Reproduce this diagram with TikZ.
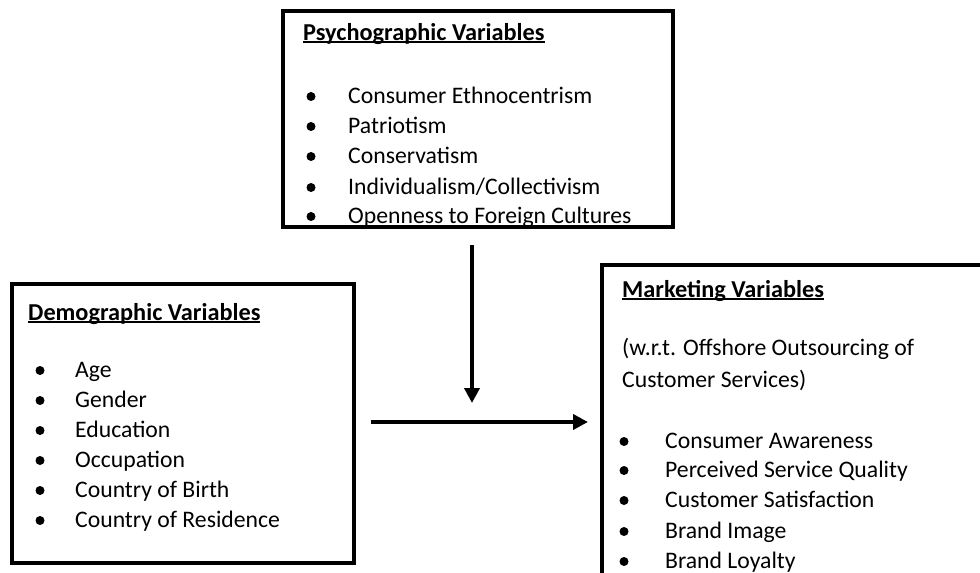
\documentclass[tikz,border=0pt]{standalone}
\usepackage{fontspec}
\setmainfont{Carlito}
\usetikzlibrary{arrows.meta}
% bold heading with an underline that runs through the descenders
\newcommand\hdrline[1]{\setbox0\hbox{\fontsize{24.3}{28}\selectfont\bfseries #1}\rlap{\rule[-3pt]{\wd0}{1.7pt}}\box0}
\tikzset{
  frame/.style={draw=black, line width=3.8pt},
  txt/.style={anchor=base west, inner sep=0pt, font=\fontsize{23.7}{28}\selectfont},
  dot/.style={circle, fill=black, inner sep=0pt, minimum size=9pt},
  flow/.style={line width=4pt, -{Triangle[length=15pt,width=15pt]}}
}
\begin{document}
\begin{tikzpicture}[x=1pt,y=-1pt]
\useasboundingbox (0,0) rectangle (980,573);
\clip (0,0) rectangle (980,573);

% Psychographic variables
\node[txt] (psyh) at (303,40) {\hdrline{Psychographic Variables}};
\foreach \yy/\t [count=\i] in {103/{Consumer Ethnocentrism}, 133/{Patriotism}, 163/{Conservatism}, 194/{Individualism/Collectivism}, 223/{Openness to Foreign Cultures}}{
  \node[dot] (psyb\i) at (311,\yy-6.5) {};
  \node[txt] (psyt\i) at (348,\yy) {\t};
}
\draw[frame, fill=none] (283,11) rectangle (673,227);
\node[inner sep=0pt, minimum width=390pt, minimum height=216pt] (psy) at (478,119) {};

% Demographic variables
\draw[frame] (12,284) rectangle (354,563);
\node[inner sep=0pt, minimum width=342pt, minimum height=279pt] (demo) at (183,423.5) {};
\node[txt] (demoh) at (28,320) {\hdrline{Demographic Variables}};
\foreach \t/\yy [count=\i] in {Age/377, Gender/407, Education/437, Occupation/467, Country of Birth/497, Country of Residence/527}{
  \node[dot] (demob\i) at (40,\yy-6.5) {};
  \node[txt] (demot\i) at (75,\yy) {\t};
}

% Marketing variables (box runs past the right and lower edges)
\draw[frame] (602,590) -- (602,265) -- (1000,265);
\node[inner sep=0pt, minimum width=398pt, minimum height=325pt] (mkt) at (801,427.5) {};
\node[txt] (mkth) at (622,297) {\hdrline{Marketing Variables}};
\node[txt] (mktn1) at (622,355) {(w.r.t. Offshore Outsourcing of};
\node[txt] (mktn2) at (622,387) {Customer Services)};
\foreach \t/\yy [count=\i] in {Consumer Awareness/448, Perceived Service Quality/477, Customer Satisfaction/507, Brand Image/538, Brand Loyalty/568}{
  \node[dot] (mktb\i) at (624,\yy-6.5) {};
  \node[txt] (mktt\i) at (665,\yy) {\t};
}

% Connectors
\coordinate (vstart) at (472,245);
\coordinate (vend) at (472,403);
\coordinate (hstart) at (371,422);
\coordinate (hend) at (588,422);
\draw[flow] (vstart) -- (vend);
\draw[flow] (hstart) -- (hend);
\end{tikzpicture}
\end{document}
